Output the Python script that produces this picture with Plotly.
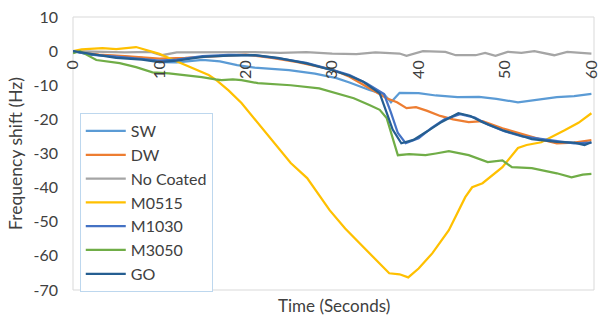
import plotly.graph_objects as go

# Frequency shift traces (time in seconds, shift in Hz)
sw_t = [0, 2, 5, 8, 10, 12, 15, 17, 19, 21, 23, 25, 28, 30.5, 32, 34.3, 36, 36.8, 37.8, 40, 42, 44.5, 47, 49, 51.5, 54, 56, 58, 60]
sw_v = [0, -1, -1.5, -2, -3.2, -3.3, -2.6, -3, -4.1, -4.8, -5.2, -5.6, -6.6, -7.9, -9.2, -11.4, -12.6, -15, -12.2, -12.3, -13, -13.5, -13.4, -14, -15, -14.2, -13.5, -13.2, -12.5]

dw_t = [0, 3, 6, 10, 13, 16, 20, 23, 26, 30, 32, 34.3, 36.3, 37.5, 38.6, 39.7, 41, 42.5, 44, 45.8, 47.4, 49.7, 52.3, 54, 56, 58, 60]
dw_v = [0, -1, -1.5, -2.2, -2, -1.5, -1, -2, -3.2, -5.4, -7.5, -10.9, -13.8, -15, -16.7, -16.4, -17.5, -19, -20, -20.8, -20.5, -22.6, -24.6, -25.8, -27, -26.8, -26.1]

nc_t = [0, 3, 6, 9, 10.3, 12, 15, 18, 21, 24, 27, 30, 32.8, 35, 37.8, 38.6, 40.5, 43.1, 44.3, 46.6, 47.7, 48.9, 50.3, 51.9, 53.4, 55.7, 57.2, 60]
nc_v = [0, -0.3, -0.4, -0.2, -1.2, -0.4, -0.3, -0.2, -0.3, -0.5, -0.3, -0.7, -0.9, -0.4, -0.7, -1.4, 0, -0.2, -1.2, -1.2, -0.5, -1.4, -0.2, -0.5, 0, -1.2, -0.2, -0.7]

m0515_t = [0, 1, 3.4, 5, 7.3, 8.5, 10, 11.1, 13, 14.5, 15.7, 16.6, 18, 19.5, 21.4, 23.3, 25.2, 27.1, 29.7, 31.5, 33.6, 35.5, 36.6, 37.8, 38.8, 40, 41.6, 43.5, 44.6, 45.4, 46.2, 47.4, 49.7, 51.5, 52.5, 54.2, 56.9, 58.5, 60]
m0515_v = [0, 0.5, 0.9, 0.6, 1.2, 0.3, -0.8, -2, -4, -5.5, -7, -8.5, -11.5, -15.2, -21.1, -27, -32.8, -37.2, -46.6, -52, -57.4, -62, -65.1, -65.4, -66.3, -63.7, -59.2, -52.5, -46.6, -42.8, -39.9, -38.7, -34, -28.4, -27.5, -26.7, -23.2, -21, -18.2]

m1030_t = [0, 2, 5, 8, 10, 12, 15, 18, 21, 24, 27, 30, 32, 34, 36, 36.8, 37.6, 38.5, 40, 41.5, 43, 44.8, 46.5, 48, 50, 52, 54, 56, 58, 60]
m1030_v = [0, -1, -1.6, -2.2, -2.8, -2.5, -1.5, -1.1, -1.2, -2.2, -3.4, -5.5, -7, -9.5, -12.6, -18, -24, -27, -25.5, -22.5, -20, -18.5, -19.5, -21.5, -23.5, -25, -25.6, -26.3, -27, -26.8]

m3050_t = [0, 0.8, 2.7, 5.4, 7.3, 9.2, 11.1, 13, 14.9, 16.5, 17.2, 18.5, 19.5, 21.4, 23, 25.2, 28.5, 30.5, 32.5, 34.3, 35.5, 36.3, 37, 37.6, 38.9, 40.8, 42, 43.5, 45.8, 48, 49.7, 50.8, 53.1, 54.2, 56, 57.7, 59, 60]
m3050_v = [-0.6, 0, -2.6, -3.5, -4.7, -6.2, -6.5, -7, -7.6, -8.3, -8.5, -8.3, -8.5, -9.4, -9.6, -10, -10.9, -12.3, -13.8, -15.8, -17.2, -19.6, -25.2, -30.5, -30.2, -30.5, -30, -29.3, -30.5, -32.5, -32, -34, -34.3, -34.9, -35.8, -37, -36.2, -36]

go_t = [0, 2, 5, 8, 10, 12, 15, 18, 21, 23.7, 27, 30, 32, 33.6, 35.5, 36.3, 37, 38, 39.4, 41, 42.5, 44.6, 46, 47.4, 49.7, 51.5, 53.1, 56, 58, 59.2, 60]
go_v = [0, -0.8, -2, -2.5, -3.2, -2.8, -1.7, -1.3, -1.2, -2, -3.6, -5.6, -7.2, -9, -12.4, -18, -23, -27, -26, -23.5, -21, -18.2, -19, -20.8, -23.2, -24.5, -25.8, -26.6, -26.8, -27.5, -26.7]

series = [
    ("SW", sw_t, sw_v, "#5B9BD5"),
    ("DW", dw_t, dw_v, "#ED7D31"),
    ("No Coated", nc_t, nc_v, "#A5A5A5"),
    ("M0515", m0515_t, m0515_v, "#FFC000"),
    ("M1030", m1030_t, m1030_v, "#4472C4"),
    ("M3050", m3050_t, m3050_v, "#70AD47"),
    ("GO", go_t, go_v, "#255E91"),
]

x_ticks = [0, 10, 20, 30, 40, 50, 60]
y_ticks = [10, 0, -10, -20, -30, -40, -50, -60, -70]

FONT = "Lato"
TEXT = "#404040"

fig = go.Figure()
for name, t, v, color in series:
    fig.add_trace(go.Scatter(x=t, y=v, mode="lines", name=name,
                             line=dict(color=color, width=2.25)))

fig.update_layout(
    width=600, height=322,
    margin=dict(l=73, r=0, t=17, b=32),
    paper_bgcolor="white", plot_bgcolor="white",
    font=dict(family=FONT, size=16, color=TEXT),
    showlegend=True,
    legend=dict(x=0.013, y=0.648, xanchor="left", yanchor="top",
                bgcolor="white", bordercolor="#BDD7EE", borderwidth=1,
                font=dict(family=FONT, size=16, color=TEXT),
                itemwidth=40, tracegroupgap=0),
    xaxis=dict(range=[0, 60.3], tickvals=x_ticks, ticktext=[str(v) for v in x_ticks],
               tickangle=-90, showgrid=False, zeroline=False, showline=False,
               ticks="", anchor="free", position=70 / 80,
               ticklabeloverflow="allow", ticklabelstandoff=5,
               tickfont=dict(family=FONT, size=16, color=TEXT)),
    yaxis=dict(range=[-70, 10], tickvals=y_ticks, ticktext=[str(v) for v in y_ticks],
               showgrid=False, zeroline=False, showline=False, ticks="",
               ticklabelstandoff=14,
               tickfont=dict(family=FONT, size=16, color=TEXT),
               title=dict(text="Frequency shift (Hz)", standoff=6,
                          font=dict(family=FONT, size=17.5, color=TEXT))),
)

# plot-area frame
fig.add_shape(type="rect", xref="paper", yref="paper", x0=0, y0=0, x1=1, y1=1,
              line=dict(color="#D9D9D9", width=1), layer="below")

fig.add_annotation(text="Time (Seconds)", xref="paper", yref="paper",
                   x=0.5, y=-15 / 273, xanchor="center", yanchor="middle",
                   showarrow=False, font=dict(family=FONT, size=17, color=TEXT))

fig.write_html("out.html")
